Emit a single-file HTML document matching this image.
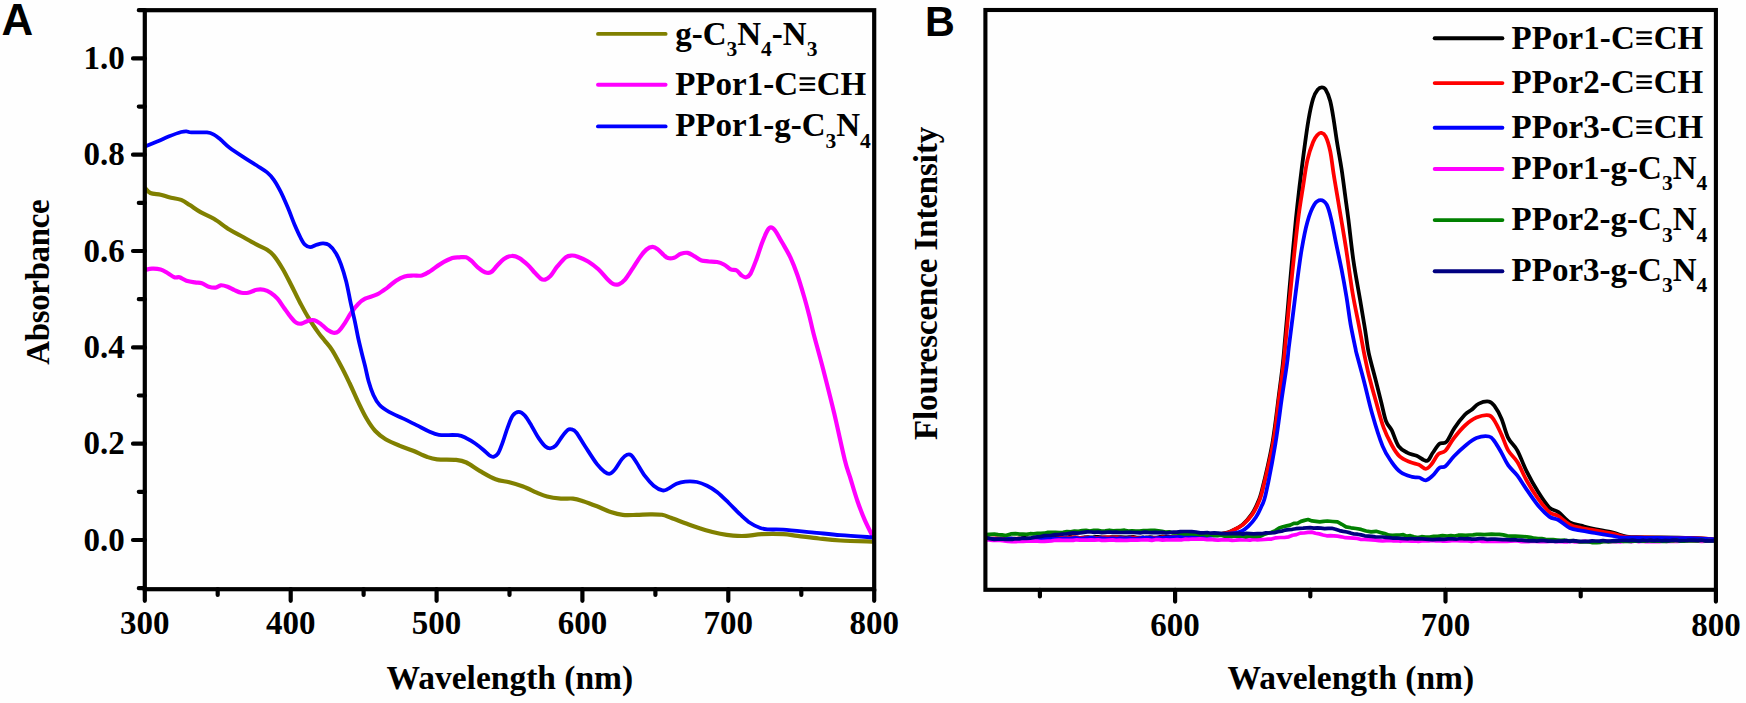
<!DOCTYPE html>
<html lang="en"><head><meta charset="utf-8"><title>Figure: UV-vis absorbance and fluorescence spectra</title>
<style>
html,body{margin:0;padding:0;background:#fefefe;}
body{width:1746px;height:703px;overflow:hidden;}
svg{display:block;}
.t{font-family:"Liberation Serif","Times New Roman",Times,serif;font-weight:bold;font-size:33px;fill:#000;}
.s{font-size:21.5px;}
.p{font-family:"Liberation Sans",Arial,Helvetica,sans-serif;font-weight:bold;fill:#000;}
.ax{stroke:#000;fill:none;}
.c{fill:none;stroke-linejoin:round;stroke-linecap:butt;}
.lg{fill:none;stroke-linecap:round;stroke-width:3.9;}
</style></head><body>
<svg width="1746" height="703" viewBox="0 0 1746 703">
<rect x="0" y="0" width="1746" height="703" fill="#fefefe"/>
<defs>
<clipPath id="ca"><rect x="144.8" y="10.2" width="729.4" height="579.0"/></clipPath>
<clipPath id="cb"><rect x="985.4" y="10.0" width="730.5" height="579.8"/></clipPath>
</defs>
<g clip-path="url(#ca)">
<path class="c" stroke="#808000" stroke-width="4.2" d="M145.0 188.0C145.9 188.8 147.7 191.9 150.3 193.0C152.9 194.1 157.4 194.0 160.6 194.7C163.8 195.4 165.8 196.4 169.2 197.3C172.6 198.2 177.8 198.6 181.2 199.9C184.6 201.2 186.7 203.1 189.8 205.1C193.0 207.1 196.1 209.6 200.1 211.9C204.1 214.2 209.0 215.9 213.9 218.8C218.8 221.7 224.4 226.5 229.3 229.5C234.2 232.5 238.5 234.5 243.1 237.0C247.7 239.5 252.8 242.5 256.8 244.6C260.8 246.7 264.2 247.9 267.1 249.8C270.0 251.7 271.4 252.7 274.0 255.8C276.6 258.9 279.7 263.8 282.6 268.7C285.5 273.6 288.3 279.4 291.2 285.0C294.1 290.6 296.9 296.8 299.8 302.2C302.7 307.6 305.2 312.5 308.4 317.6C311.5 322.8 316.0 329.3 318.7 333.1C321.4 336.9 322.3 337.6 324.6 340.5C326.9 343.4 329.6 346.1 332.3 350.3C335.0 354.5 338.0 360.4 340.9 365.8C343.8 371.2 346.6 377.0 349.5 383.0C352.4 389.0 355.2 395.9 358.1 401.9C361.0 407.9 363.8 413.9 366.7 418.8C369.6 423.7 372.1 427.6 375.3 431.0C378.5 434.4 381.6 436.8 385.6 439.2C389.6 441.6 394.7 443.7 399.3 445.6C403.9 447.5 408.5 448.9 413.1 450.8C417.7 452.7 422.8 455.4 426.8 456.8C430.8 458.2 432.2 458.8 437.1 459.3C442.0 459.8 451.2 459.4 456.1 459.9C461.0 460.4 462.4 460.6 466.4 462.5C470.4 464.4 475.2 468.3 480.1 471.1C485.0 473.9 490.7 477.4 495.6 479.3C500.5 481.2 504.7 481.1 509.3 482.3C513.9 483.5 518.5 484.8 523.1 486.5C527.7 488.2 532.8 490.9 536.8 492.6C540.8 494.3 543.1 495.5 547.1 496.5C551.1 497.5 556.6 498.2 560.9 498.6C565.2 499.0 569.2 498.2 572.9 498.6C576.6 499.0 579.2 499.9 583.2 501.2C587.2 502.5 592.4 504.5 597.0 506.3C601.6 508.1 606.4 510.6 610.7 512.0C615.0 513.4 618.4 514.4 622.7 514.9C627.0 515.4 631.9 515.0 636.5 514.9C641.1 514.8 646.0 514.3 650.2 514.3C654.5 514.3 658.5 514.2 662.0 514.8C665.5 515.4 667.0 516.4 671.5 518.0C676.0 519.6 683.0 522.4 688.7 524.4C694.4 526.4 700.6 528.7 705.9 530.2C711.1 531.8 715.7 532.8 720.2 533.7C724.7 534.6 728.8 535.2 733.1 535.6C737.4 536.0 741.2 536.1 746.0 535.9C750.8 535.7 755.5 534.5 761.7 534.2C767.9 533.9 777.2 533.9 783.2 534.2C789.2 534.5 791.5 535.2 797.5 535.9C803.5 536.6 811.8 537.7 819.0 538.5C826.2 539.3 831.2 540.0 840.5 540.5C849.8 541.0 869.2 541.4 875.0 541.6"/>
<path class="c" stroke="#ff00ff" stroke-width="4.2" d="M145.0 270.0C146.2 269.8 149.4 268.8 152.0 268.7C154.6 268.6 158.0 268.8 160.6 269.5C163.2 270.2 165.2 271.7 167.5 273.0C169.8 274.3 172.4 276.6 174.4 277.3C176.4 278.0 177.5 276.7 179.5 277.3C181.5 277.9 183.8 279.9 186.4 280.7C189.0 281.5 192.4 282.0 195.0 282.4C197.6 282.8 199.6 282.6 201.9 283.3C204.2 284.0 206.4 286.0 208.7 286.7C211.0 287.4 213.6 287.8 215.6 287.6C217.6 287.4 218.8 285.5 220.8 285.3C222.8 285.1 225.3 285.9 227.6 286.7C229.9 287.5 232.2 289.1 234.5 290.1C236.8 291.1 239.1 292.3 241.4 292.7C243.7 293.1 245.6 293.2 248.2 292.7C250.8 292.2 254.2 290.3 256.8 289.8C259.4 289.3 261.4 289.3 263.7 289.8C266.0 290.3 268.3 291.2 270.6 292.7C272.9 294.2 275.2 296.1 277.5 298.7C279.8 301.3 282.0 305.0 284.3 308.2C286.6 311.4 289.2 315.2 291.2 317.6C293.2 320.0 294.7 321.8 296.4 322.8C298.1 323.8 299.5 324.0 301.5 323.6C303.5 323.2 306.2 321.3 308.4 320.7C310.5 320.1 312.4 319.7 314.4 320.2C316.4 320.7 318.2 322.0 320.4 323.6C322.5 325.2 325.1 328.2 327.3 329.7C329.5 331.2 331.4 332.4 333.3 332.7C335.2 333.0 336.6 332.9 338.5 331.4C340.4 329.9 342.4 326.8 344.5 323.6C346.6 320.5 349.0 315.8 351.3 312.5C353.6 309.2 355.9 306.2 358.2 303.9C360.5 301.6 362.0 300.3 365.1 298.7C368.2 297.1 373.4 296.2 377.1 294.4C380.8 292.5 384.2 289.9 387.4 287.6C390.5 285.3 393.1 282.6 396.0 280.7C398.9 278.8 401.7 277.3 404.6 276.4C407.5 275.5 410.3 275.6 413.2 275.5C416.1 275.4 418.9 276.2 421.8 275.5C424.7 274.8 427.4 272.9 430.5 271.0C433.6 269.1 436.7 266.2 440.3 264.1C443.9 262.0 449.2 259.2 452.3 258.1C455.4 257.0 456.9 257.4 459.2 257.3C461.5 257.2 464.1 256.7 466.1 257.3C468.1 257.9 469.2 259.0 471.2 260.7C473.2 262.4 475.8 265.7 478.1 267.6C480.4 269.5 482.9 271.4 485.0 272.2C487.1 273.0 489.0 273.3 491.0 272.2C493.0 271.1 494.9 268.0 497.0 265.8C499.1 263.6 501.5 260.6 503.9 259.0C506.3 257.4 509.0 256.1 511.6 256.0C514.2 255.8 516.6 256.6 519.3 258.1C522.0 259.6 525.3 262.6 527.9 265.0C530.5 267.4 532.6 270.4 534.8 272.7C536.9 275.0 539.1 277.5 540.8 278.7C542.5 279.9 543.5 280.0 545.1 279.6C546.7 279.2 548.3 278.4 550.3 276.2C552.3 274.0 554.5 269.8 557.1 266.7C559.7 263.6 563.2 259.2 565.7 257.3C568.2 255.4 569.8 255.6 571.8 255.5C573.8 255.4 575.1 255.7 577.8 256.7C580.5 257.7 584.7 259.4 588.1 261.5C591.5 263.6 595.2 266.4 598.4 269.3C601.5 272.2 604.6 276.3 607.0 278.7C609.4 281.1 611.0 283.0 613.0 283.9C615.0 284.8 617.0 284.9 619.0 284.2C621.0 283.5 622.7 282.2 625.0 279.6C627.3 277.0 630.1 272.3 632.7 268.4C635.3 264.5 638.2 259.5 640.5 256.4C642.8 253.2 644.5 251.1 646.5 249.5C648.5 247.9 650.6 247.0 652.5 246.9C654.4 246.8 655.8 247.8 657.7 249.2C659.6 250.5 662.0 253.5 663.7 255.0C665.4 256.5 666.3 257.6 668.0 258.1C669.7 258.6 671.9 258.5 674.0 257.8C676.1 257.1 678.6 254.6 680.9 253.8C683.2 253.0 685.4 252.5 687.7 252.9C690.0 253.3 692.3 255.1 694.6 256.4C696.9 257.7 699.2 259.7 701.5 260.5C703.8 261.3 705.9 261.1 708.5 261.4C711.1 261.6 714.5 261.5 717.1 262.0C719.7 262.5 721.6 263.3 723.9 264.5C726.2 265.7 728.6 268.3 730.7 269.3C732.8 270.3 734.9 269.4 736.7 270.5C738.6 271.6 740.2 274.5 741.8 275.6C743.4 276.7 744.7 277.6 746.1 277.3C747.5 277.0 748.7 276.9 750.4 273.9C752.1 270.9 754.4 264.7 756.4 259.4C758.4 254.1 760.4 247.1 762.3 242.3C764.1 237.5 766.1 232.9 767.5 230.4C768.9 227.9 769.6 227.3 770.9 227.3C772.2 227.3 773.2 227.9 775.1 230.4C777.0 232.9 779.4 237.8 782.0 242.3C784.6 246.9 788.0 252.3 790.5 257.7C793.0 263.1 795.0 268.2 797.3 274.8C799.6 281.4 802.2 290.2 804.2 297.0C806.2 303.8 807.7 309.6 809.3 315.7C810.9 321.8 811.3 324.8 813.6 333.7C815.9 342.6 819.7 355.7 823.1 369.0C826.5 382.3 830.6 398.1 834.2 413.3C837.8 428.5 842.1 449.1 844.8 460.0C847.5 470.9 848.4 471.7 850.5 478.6C852.6 485.5 855.2 494.6 857.6 501.5C860.0 508.4 861.9 513.5 864.8 520.1C867.7 526.7 873.3 537.5 875.0 541.0"/>
<path class="c" stroke="#0000ff" stroke-width="3.8" d="M145.0 146.5C147.0 145.7 153.2 143.2 157.2 141.5C161.2 139.8 165.2 137.9 169.2 136.3C173.2 134.7 178.3 132.8 181.2 132.0C184.1 131.2 184.7 131.2 186.4 131.3C188.1 131.4 188.1 132.2 191.5 132.4C194.9 132.6 203.3 132.0 207.0 132.4C210.7 132.8 211.6 133.4 213.9 134.6C216.2 135.8 218.2 137.7 220.8 139.8C223.4 142.0 225.6 144.7 229.3 147.5C233.0 150.3 238.5 153.9 243.1 156.9C247.7 159.9 252.8 162.9 256.8 165.5C260.8 168.1 264.2 170.0 267.1 172.4C270.0 174.8 271.7 176.8 274.0 180.1C276.3 183.4 278.6 187.6 280.9 192.2C283.2 196.8 285.5 202.2 287.8 207.6C290.1 213.0 292.5 219.7 294.6 224.8C296.8 229.9 299.0 234.7 300.7 238.0C302.4 241.3 303.3 243.1 304.9 244.6C306.5 246.1 308.1 247.2 310.1 247.2C312.1 247.2 314.9 245.2 317.0 244.6C319.1 244.0 321.0 243.3 323.0 243.4C325.0 243.5 326.9 243.5 329.0 245.1C331.1 246.7 333.9 250.0 335.9 253.2C337.9 256.4 339.3 259.7 341.0 264.4C342.7 269.1 344.6 275.2 346.2 281.5C347.8 287.8 349.1 295.6 350.5 302.2C351.9 308.8 353.5 315.1 354.8 321.1C356.1 327.1 357.1 332.9 358.2 338.0C359.3 343.1 360.4 347.4 361.5 352.0C362.6 356.6 363.8 360.9 365.0 365.8C366.2 370.7 367.2 376.3 368.6 381.2C370.0 386.1 371.6 391.0 373.4 395.0C375.2 399.0 377.0 402.2 379.6 405.0C382.2 407.8 385.1 409.6 389.0 411.8C392.9 414.0 398.2 416.2 402.8 418.4C407.4 420.6 412.2 423.0 416.5 425.1C420.8 427.2 424.9 429.6 428.6 431.2C432.3 432.8 434.0 434.1 438.9 434.8C443.8 435.5 453.2 434.6 457.8 435.2C462.4 435.8 463.5 436.9 466.4 438.2C469.2 439.5 472.0 441.2 474.9 443.2C477.8 445.2 481.1 447.9 483.5 450.0C485.9 452.1 487.9 454.4 489.6 455.5C491.3 456.6 492.1 457.2 493.5 456.8C494.9 456.4 496.6 455.7 498.1 453.4C499.6 451.1 500.8 447.4 502.4 443.1C504.0 438.8 505.9 432.2 507.6 427.6C509.3 423.0 510.8 418.2 512.7 415.6C514.6 413.0 516.8 411.8 518.8 411.8C520.8 411.8 522.7 413.2 524.8 415.6C526.9 418.0 529.3 422.2 531.6 425.9C533.9 429.6 536.2 434.5 538.5 437.9C540.8 441.3 543.4 444.8 545.4 446.5C547.4 448.2 548.5 448.5 550.2 448.4C551.9 448.3 553.6 447.8 555.7 445.7C557.8 443.6 560.6 438.4 562.6 435.8C564.6 433.2 566.3 431.1 567.7 430.0C569.1 428.9 569.8 428.9 571.2 429.3C572.6 429.7 574.0 429.7 576.3 432.5C578.6 435.3 581.4 440.7 584.9 446.0C588.4 451.3 593.7 459.9 597.0 464.2C600.3 468.5 602.6 470.3 604.7 471.9C606.9 473.5 608.2 474.1 609.9 473.7C611.6 473.3 613.0 471.8 615.0 469.4C617.0 467.0 619.9 461.5 621.9 459.1C623.9 456.7 625.4 455.4 627.0 454.8C628.6 454.2 629.7 454.0 631.3 455.3C632.9 456.6 634.2 459.0 636.5 462.5C638.8 466.0 642.2 472.3 645.1 476.2C648.0 480.1 650.8 483.3 653.7 485.7C656.6 488.1 660.1 489.9 662.5 490.4C664.9 490.9 665.7 490.0 668.0 488.9C670.3 487.8 673.6 485.0 676.5 483.8C679.4 482.6 681.8 481.9 685.2 481.6C688.6 481.3 693.4 481.3 697.0 482.0C700.6 482.7 703.7 484.1 707.1 485.8C710.5 487.5 713.7 489.3 717.3 492.2C720.9 495.1 725.0 499.3 728.8 503.0C732.6 506.7 736.6 511.1 740.2 514.4C743.8 517.7 746.9 520.7 750.3 523.0C753.6 525.3 757.2 526.9 760.3 528.0C763.4 529.1 765.1 529.1 768.9 529.4C772.7 529.7 776.1 529.2 783.2 529.7C790.4 530.2 802.2 531.4 811.8 532.3C821.3 533.2 830.0 534.3 840.5 535.2C851.0 536.1 869.2 537.1 875.0 537.5"/>
</g>
<rect class="ax" x="144.8" y="10.2" width="729.4" height="579.0" stroke-width="4.2"/>
<path class="ax" stroke-width="4.2" stroke-linecap="round" d="M138.8 588.2H144.8M133.0 540.0H144.8M138.8 491.8H144.8M133.0 443.7H144.8M138.8 395.5H144.8M133.0 347.4H144.8M138.8 299.2H144.8M133.0 251.0H144.8M138.8 202.9H144.8M133.0 154.7H144.8M138.8 106.6H144.8M133.0 58.4H144.8M138.8 10.2H144.8"/>
<path class="ax" stroke-width="4.2" stroke-linecap="round" d="M144.8 589.2V600.8M217.7 589.2V595.0M290.7 589.2V600.8M363.6 589.2V595.0M436.6 589.2V600.8M509.5 589.2V595.0M582.4 589.2V600.8M655.4 589.2V595.0M728.3 589.2V600.8M801.3 589.2V595.0M874.2 589.2V600.8"/>
<text class="t" x="124.8" y="550.5" text-anchor="end">0.0</text>
<text class="t" x="124.8" y="454.2" text-anchor="end">0.2</text>
<text class="t" x="124.8" y="357.9" text-anchor="end">0.4</text>
<text class="t" x="124.8" y="261.5" text-anchor="end">0.6</text>
<text class="t" x="124.8" y="165.2" text-anchor="end">0.8</text>
<text class="t" x="124.8" y="68.9" text-anchor="end">1.0</text>
<text class="t" x="144.8" y="634.2" text-anchor="middle">300</text>
<text class="t" x="290.7" y="634.2" text-anchor="middle">400</text>
<text class="t" x="436.6" y="634.2" text-anchor="middle">500</text>
<text class="t" x="582.4" y="634.2" text-anchor="middle">600</text>
<text class="t" x="728.3" y="634.2" text-anchor="middle">700</text>
<text class="t" x="874.2" y="634.2" text-anchor="middle">800</text>
<text class="t" x="509.9" y="689.2" font-size="33.5" style="font-size:33.5px" text-anchor="middle">Wavelength (nm)</text>
<text class="t" transform="translate(49.2 282) rotate(-90)" text-anchor="middle" textLength="165.4" lengthAdjust="spacing">Absorbance</text>
<text class="p" transform="translate(1.5 35.2) scale(.975 1)" font-size="45">A</text>
<path class="lg" stroke="#808000" d="M598 33.9H665.6"/>
<text class="t" x="675.2" y="44.6">g-C<tspan class="s" dy="11.3">3</tspan><tspan dy="-11.3">N</tspan><tspan class="s" dy="11.3">4</tspan><tspan dy="-11.3">-N</tspan><tspan class="s" dy="11.3">3</tspan></text>
<path class="lg" stroke="#ff00ff" d="M598 84.7H665.6"/>
<text class="t" x="675.2" y="94.9">PPor1-C≡CH</text>
<path class="lg" stroke="#0000ff" d="M598 126.4H665.6"/>
<text class="t" x="675.2" y="136.3">PPor1-g-C<tspan class="s" dy="11.3">3</tspan><tspan dy="-11.3">N</tspan><tspan class="s" dy="11.3">4</tspan></text>
<g clip-path="url(#cb)">
<path class="c" stroke="#000000" stroke-width="3.8" d="M985.0 537.6C985.8 537.8 988.3 538.4 990.0 538.5C991.7 538.7 993.3 538.7 995.0 538.7C996.7 538.6 998.5 538.4 1000.0 538.4C1001.5 538.3 1002.9 538.5 1004.3 538.6C1005.7 538.6 1007.1 538.5 1008.6 538.5C1010.0 538.5 1011.4 538.6 1012.9 538.7C1014.3 538.7 1015.7 538.9 1017.1 538.8C1018.6 538.7 1020.0 538.2 1021.4 538.1C1022.9 537.9 1024.3 537.8 1025.7 538.0C1027.1 538.1 1028.6 538.7 1030.0 538.7C1031.4 538.8 1032.9 538.3 1034.3 538.2C1035.7 538.2 1037.1 538.5 1038.6 538.4C1040.0 538.3 1041.4 537.7 1042.9 537.6C1044.3 537.5 1045.7 537.8 1047.1 537.9C1048.6 538.0 1050.0 538.1 1051.4 538.1C1052.9 538.0 1054.3 537.4 1055.7 537.4C1057.1 537.4 1058.6 538.0 1060.0 538.0C1061.4 538.1 1062.7 538.1 1064.0 538.0C1065.3 537.8 1066.7 537.2 1068.0 537.1C1069.3 536.9 1070.7 537.0 1072.0 537.1C1073.3 537.1 1074.7 537.4 1076.0 537.6C1077.3 537.7 1078.7 538.0 1080.0 537.9C1081.3 537.9 1082.7 537.5 1084.0 537.4C1085.3 537.2 1086.7 537.2 1088.0 537.2C1089.3 537.2 1090.7 537.4 1092.0 537.4C1093.3 537.3 1094.7 537.0 1096.0 536.9C1097.3 536.9 1098.6 537.1 1100.0 537.1C1101.4 537.2 1102.8 537.3 1104.2 537.3C1105.6 537.4 1106.9 537.4 1108.3 537.4C1109.7 537.4 1111.1 537.2 1112.5 537.1C1113.9 537.1 1115.3 537.1 1116.7 537.1C1118.1 537.1 1119.4 537.1 1120.8 537.1C1122.2 537.2 1123.6 537.3 1125.0 537.4C1126.4 537.4 1127.8 537.3 1129.2 537.2C1130.6 537.1 1131.9 536.8 1133.3 536.9C1134.7 537.0 1136.1 537.6 1137.5 537.7C1138.9 537.8 1140.3 537.5 1141.7 537.5C1143.1 537.4 1144.4 537.6 1145.8 537.5C1147.2 537.5 1148.6 537.1 1150.0 537.1C1151.4 537.1 1152.8 537.7 1154.2 537.7C1155.6 537.8 1156.9 537.6 1158.3 537.4C1159.7 537.2 1161.1 536.7 1162.5 536.5C1163.9 536.4 1165.3 536.6 1166.7 536.6C1168.1 536.6 1169.4 536.8 1170.8 536.8C1172.2 536.8 1173.6 536.7 1175.0 536.7C1176.4 536.6 1177.8 536.8 1179.2 536.7C1180.6 536.6 1181.9 536.1 1183.3 536.1C1184.7 536.0 1186.1 536.3 1187.5 536.3C1188.9 536.3 1190.3 536.1 1191.7 536.0C1193.1 535.8 1194.4 535.5 1195.8 535.5C1197.2 535.4 1195.1 535.9 1200.0 535.5C1204.9 535.1 1219.6 534.1 1225.0 533.2C1230.4 532.4 1229.7 531.8 1232.6 530.4C1235.5 529.0 1239.4 527.3 1242.6 524.6C1245.8 521.9 1249.1 518.0 1251.6 514.4C1254.1 510.8 1255.9 507.0 1257.6 502.9C1259.3 498.8 1259.5 499.9 1262.0 490.0C1264.5 480.1 1269.5 459.1 1272.3 443.8C1275.0 428.5 1276.8 411.6 1278.5 398.3C1280.2 385.0 1281.7 373.9 1282.8 364.2C1283.9 354.5 1284.1 350.1 1285.0 340.0C1285.9 329.9 1287.2 315.5 1288.2 303.8C1289.2 292.1 1289.9 284.0 1291.2 269.7C1292.5 255.4 1294.6 231.9 1296.0 218.2C1297.4 204.5 1298.1 198.7 1299.4 187.5C1300.7 176.3 1302.5 162.5 1304.0 151.1C1305.5 139.7 1307.1 127.9 1308.6 119.2C1310.1 110.5 1311.6 103.6 1313.1 98.7C1314.6 93.8 1316.2 91.5 1317.7 89.6C1319.2 87.7 1320.5 87.3 1321.8 87.3C1323.1 87.3 1324.2 87.3 1325.6 89.6C1327.0 91.9 1328.9 96.1 1330.2 101.0C1331.5 105.9 1332.5 112.4 1333.6 119.2C1334.7 126.0 1335.7 133.7 1337.0 142.0C1338.3 150.3 1340.3 160.6 1341.6 169.3C1342.9 178.0 1343.9 185.9 1345.0 194.3C1346.1 202.7 1347.0 208.5 1348.4 219.6C1349.8 230.7 1351.5 247.3 1353.4 260.6C1355.3 273.9 1358.2 288.7 1360.0 299.3C1361.8 309.9 1363.2 318.4 1364.2 324.3C1365.2 330.2 1365.2 330.2 1365.9 335.0C1366.7 339.8 1367.1 345.3 1368.7 352.8C1370.3 360.3 1373.6 371.8 1375.7 380.1C1377.8 388.5 1379.7 396.1 1381.4 402.9C1383.1 409.7 1384.3 416.6 1386.0 421.1C1387.7 425.7 1389.6 426.0 1391.7 430.2C1393.8 434.4 1395.8 442.3 1398.5 446.1C1401.2 449.9 1404.6 451.3 1407.6 452.9C1410.6 454.5 1413.5 454.4 1416.7 455.7C1419.9 457.0 1424.2 461.3 1426.9 460.9C1429.6 460.4 1430.5 455.9 1432.6 453.0C1434.7 450.1 1437.2 445.7 1439.5 443.8C1441.8 441.9 1444.0 444.5 1446.5 441.8C1449.0 439.1 1451.5 432.4 1454.6 427.9C1457.6 423.4 1462.0 417.8 1464.8 414.8C1467.6 411.8 1469.2 411.7 1471.6 409.8C1473.9 407.9 1476.0 405.0 1478.9 403.6C1481.8 402.2 1486.4 401.2 1489.0 401.6C1491.6 402.0 1492.5 403.4 1494.6 406.2C1496.7 409.0 1499.2 413.4 1501.5 418.7C1503.8 424.0 1505.6 432.8 1508.3 438.1C1511.0 443.4 1514.4 445.1 1517.4 450.6C1520.4 456.1 1523.1 464.3 1526.5 471.1C1529.9 477.9 1534.1 485.5 1537.9 491.6C1541.7 497.7 1545.9 504.1 1549.3 507.5C1552.7 510.9 1555.0 509.6 1558.4 512.1C1561.8 514.6 1566.0 520.0 1569.8 522.3C1573.6 524.6 1577.0 524.6 1581.2 525.7C1585.4 526.8 1589.5 528.0 1594.8 529.1C1600.1 530.2 1607.7 531.3 1613.0 532.6C1618.3 533.9 1621.4 535.9 1626.7 536.7C1632.0 537.5 1634.4 537.1 1644.9 537.3C1655.5 537.5 1678.2 537.6 1690.0 538.0C1701.8 538.4 1711.7 539.2 1716.0 539.5"/>
<path class="c" stroke="#ff0000" stroke-width="3.8" d="M985.0 538.9C985.8 538.9 988.3 539.1 990.0 539.0C991.7 539.0 993.3 538.4 995.0 538.4C996.7 538.3 998.5 538.4 1000.0 538.6C1001.5 538.7 1002.9 539.2 1004.3 539.3C1005.7 539.4 1007.1 539.2 1008.6 539.2C1010.0 539.1 1011.4 539.2 1012.9 539.1C1014.3 539.0 1015.7 538.7 1017.1 538.7C1018.6 538.7 1020.0 538.9 1021.4 539.0C1022.9 539.0 1024.3 538.9 1025.7 538.9C1027.1 538.9 1028.6 539.0 1030.0 538.9C1031.4 538.8 1032.9 538.4 1034.3 538.3C1035.7 538.3 1037.1 538.5 1038.6 538.5C1040.0 538.5 1041.4 538.3 1042.9 538.4C1044.3 538.4 1045.7 538.5 1047.1 538.6C1048.6 538.6 1050.0 538.7 1051.4 538.7C1052.9 538.7 1054.3 538.7 1055.7 538.6C1057.1 538.5 1058.6 538.2 1060.0 538.0C1061.4 537.9 1062.7 538.0 1064.0 537.9C1065.3 537.9 1066.7 537.8 1068.0 537.7C1069.3 537.7 1070.7 537.5 1072.0 537.5C1073.3 537.4 1074.7 537.4 1076.0 537.4C1077.3 537.5 1078.7 537.8 1080.0 537.9C1081.3 537.9 1082.7 537.7 1084.0 537.7C1085.3 537.7 1086.7 537.7 1088.0 537.7C1089.3 537.8 1090.7 538.2 1092.0 538.2C1093.3 538.2 1094.7 537.9 1096.0 537.8C1097.3 537.8 1098.6 537.9 1100.0 537.9C1101.4 537.8 1102.8 537.6 1104.2 537.5C1105.6 537.4 1106.9 537.3 1108.3 537.3C1109.7 537.3 1111.1 537.6 1112.5 537.6C1113.9 537.6 1115.3 537.4 1116.7 537.4C1118.1 537.5 1119.4 537.7 1120.8 537.8C1122.2 538.0 1123.6 538.3 1125.0 538.3C1126.4 538.3 1127.8 538.1 1129.2 538.0C1130.6 537.8 1131.9 537.4 1133.3 537.5C1134.7 537.5 1136.1 538.1 1137.5 538.2C1138.9 538.3 1140.3 538.1 1141.7 538.1C1143.1 538.1 1144.4 538.0 1145.8 538.0C1147.2 538.1 1148.6 538.2 1150.0 538.2C1151.4 538.2 1152.8 538.0 1154.2 537.9C1155.6 537.8 1156.9 537.9 1158.3 537.8C1159.7 537.7 1161.1 537.2 1162.5 537.2C1163.9 537.2 1165.3 537.6 1166.7 537.6C1168.1 537.7 1169.4 537.7 1170.8 537.5C1172.2 537.3 1173.6 536.6 1175.0 536.5C1176.4 536.4 1177.8 536.9 1179.2 536.9C1180.6 537.0 1181.9 536.9 1183.3 536.7C1184.7 536.6 1186.1 536.4 1187.5 536.3C1188.9 536.3 1190.3 536.3 1191.7 536.2C1193.1 536.2 1194.4 536.1 1195.8 536.0C1197.2 536.0 1195.1 536.3 1200.0 535.9C1204.9 535.5 1219.5 534.3 1225.0 533.4C1230.5 532.5 1229.9 531.9 1232.9 530.4C1235.9 528.9 1239.8 527.3 1243.0 524.6C1246.2 521.9 1249.8 518.0 1252.3 514.4C1254.8 510.8 1256.6 507.0 1258.3 502.9C1260.0 498.8 1260.1 499.9 1262.6 490.0C1265.0 480.1 1270.3 459.1 1273.0 443.8C1275.7 428.5 1277.2 411.6 1279.0 398.3C1280.8 385.0 1282.4 373.9 1283.5 364.2C1284.6 354.5 1284.8 350.1 1285.8 340.0C1286.8 329.9 1287.9 317.4 1289.2 303.8C1290.5 290.2 1292.3 272.6 1293.8 258.3C1295.3 244.0 1296.8 229.8 1298.3 218.0C1299.8 206.2 1301.4 197.1 1302.9 187.5C1304.4 177.9 1305.7 167.8 1307.4 160.2C1309.1 152.6 1311.4 146.2 1313.1 142.0C1314.8 137.8 1316.4 136.2 1317.7 134.7C1319.0 133.2 1319.8 132.6 1321.1 132.9C1322.4 133.2 1324.1 133.3 1325.6 136.3C1327.1 139.3 1328.9 144.8 1330.2 151.1C1331.5 157.3 1332.3 165.5 1333.6 173.8C1334.9 182.2 1337.0 193.8 1338.2 201.2C1339.4 208.6 1339.6 209.6 1341.0 218.0C1342.4 226.4 1344.6 239.1 1346.5 251.5C1348.4 263.9 1350.5 280.4 1352.5 292.5C1354.5 304.6 1357.3 316.9 1358.7 324.3C1360.1 331.7 1360.2 332.2 1361.1 337.0C1362.0 341.8 1362.7 346.4 1364.0 352.8C1365.3 359.2 1367.0 367.5 1368.9 375.5C1370.9 383.5 1373.2 391.9 1375.7 400.6C1378.2 409.3 1381.0 420.5 1383.7 427.9C1386.4 435.3 1389.1 440.2 1391.7 445.0C1394.3 449.8 1396.6 453.5 1399.6 456.4C1402.6 459.2 1406.7 460.7 1409.9 462.1C1413.1 463.5 1416.3 463.7 1419.0 464.8C1421.7 465.9 1423.7 469.0 1425.8 468.9C1427.9 468.8 1429.4 466.8 1431.5 464.3C1433.6 461.8 1436.0 456.4 1438.3 454.1C1440.6 451.9 1442.8 453.5 1445.4 450.8C1448.0 448.1 1450.7 442.2 1454.0 438.0C1457.3 433.8 1461.3 428.9 1465.0 425.5C1468.7 422.1 1472.4 419.3 1476.4 417.6C1480.4 415.9 1486.0 414.7 1489.0 415.3C1492.0 415.9 1492.5 417.8 1494.6 421.0C1496.7 424.2 1499.2 429.7 1501.5 434.6C1503.8 439.5 1505.6 446.0 1508.3 450.6C1511.0 455.2 1514.4 457.1 1517.4 462.0C1520.4 466.9 1523.1 474.1 1526.5 480.2C1529.9 486.3 1534.1 493.1 1537.9 498.4C1541.7 503.7 1545.9 509.1 1549.3 512.1C1552.7 515.1 1555.0 514.1 1558.4 516.2C1561.8 518.3 1566.0 522.6 1569.8 524.6C1573.6 526.6 1577.0 527.0 1581.2 528.0C1585.4 529.0 1589.5 529.3 1594.8 530.3C1600.1 531.2 1607.7 532.6 1613.0 533.7C1618.3 534.8 1621.4 536.5 1626.7 537.1C1632.0 537.7 1634.4 537.4 1644.9 537.5C1655.5 537.6 1678.2 537.7 1690.0 538.0C1701.8 538.3 1711.7 539.2 1716.0 539.5"/>
<path class="c" stroke="#0000ff" stroke-width="3.8" d="M985.0 538.5C985.8 538.6 988.3 539.0 990.0 539.0C991.7 539.1 993.3 539.0 995.0 539.1C996.7 539.1 998.5 539.4 1000.0 539.5C1001.5 539.6 1002.9 539.6 1004.3 539.5C1005.7 539.4 1007.1 539.0 1008.6 538.9C1010.0 538.8 1011.4 538.7 1012.9 538.8C1014.3 538.9 1015.7 539.6 1017.1 539.6C1018.6 539.7 1020.0 539.1 1021.4 539.0C1022.9 538.9 1024.3 538.8 1025.7 539.0C1027.1 539.1 1028.6 539.7 1030.0 539.7C1031.4 539.7 1032.9 539.1 1034.3 539.1C1035.7 539.0 1037.1 539.3 1038.6 539.3C1040.0 539.3 1041.4 538.9 1042.9 538.8C1044.3 538.8 1045.7 539.0 1047.1 538.9C1048.6 538.8 1050.0 538.3 1051.4 538.3C1052.9 538.2 1054.3 538.6 1055.7 538.6C1057.1 538.7 1058.6 538.8 1060.0 538.8C1061.4 538.7 1062.7 538.4 1064.0 538.4C1065.3 538.4 1066.7 538.6 1068.0 538.6C1069.3 538.6 1070.7 538.6 1072.0 538.5C1073.3 538.4 1074.7 537.9 1076.0 537.9C1077.3 537.9 1078.7 538.5 1080.0 538.6C1081.3 538.6 1082.7 538.5 1084.0 538.4C1085.3 538.3 1086.7 538.2 1088.0 538.1C1089.3 538.0 1090.7 537.7 1092.0 537.8C1093.3 537.9 1094.7 538.5 1096.0 538.6C1097.3 538.7 1098.6 538.2 1100.0 538.2C1101.4 538.1 1102.8 538.4 1104.2 538.4C1105.6 538.5 1106.9 538.6 1108.3 538.6C1109.7 538.6 1111.1 538.4 1112.5 538.4C1113.9 538.4 1115.3 538.7 1116.7 538.6C1118.1 538.6 1119.4 538.1 1120.8 538.1C1122.2 538.1 1123.6 538.5 1125.0 538.5C1126.4 538.5 1127.8 538.1 1129.2 538.1C1130.6 538.2 1131.9 538.6 1133.3 538.6C1134.7 538.7 1136.1 538.7 1137.5 538.6C1138.9 538.4 1140.3 537.9 1141.7 537.8C1143.1 537.7 1144.4 537.8 1145.8 537.8C1147.2 537.9 1148.6 537.8 1150.0 537.9C1151.4 538.0 1152.8 538.5 1154.2 538.5C1155.6 538.5 1156.9 537.9 1158.3 537.8C1159.7 537.7 1161.1 537.9 1162.5 537.9C1163.9 537.8 1165.3 537.4 1166.7 537.4C1168.1 537.3 1169.4 537.5 1170.8 537.4C1172.2 537.4 1173.6 537.2 1175.0 537.1C1176.4 537.1 1177.8 537.0 1179.2 536.9C1180.6 536.9 1181.9 537.0 1183.3 537.0C1184.7 537.0 1186.1 536.9 1187.5 536.9C1188.9 536.9 1190.3 537.1 1191.7 537.0C1193.1 537.0 1194.4 536.8 1195.8 536.6C1197.2 536.5 1194.6 536.7 1200.0 536.3C1205.4 535.9 1221.1 534.9 1228.0 534.0C1234.9 533.1 1238.0 532.6 1241.5 531.2C1245.0 529.8 1246.3 528.1 1248.7 525.8C1251.1 523.5 1253.7 520.5 1255.9 517.2C1258.1 513.9 1260.0 509.9 1261.7 505.8C1263.4 501.8 1263.7 503.2 1266.0 492.9C1268.3 482.6 1272.8 459.6 1275.4 443.8C1278.0 428.0 1279.9 411.6 1281.8 398.3C1283.7 385.0 1285.8 372.6 1286.9 364.2C1288.1 355.8 1287.8 356.0 1288.7 348.2C1289.7 340.4 1291.2 328.7 1292.6 317.5C1294.0 306.3 1295.7 292.5 1297.2 281.1C1298.7 269.7 1300.0 259.1 1301.7 249.2C1303.4 239.3 1305.3 229.3 1307.4 221.9C1309.5 214.5 1312.0 208.4 1314.2 204.8C1316.4 201.2 1318.5 200.2 1320.6 200.2C1322.7 200.2 1325.0 201.6 1326.8 204.8C1328.6 208.0 1329.8 213.3 1331.3 219.6C1332.8 225.9 1334.2 234.1 1335.9 242.4C1337.6 250.8 1339.8 260.6 1341.6 269.7C1343.4 278.8 1345.0 287.9 1346.5 297.0C1348.0 306.1 1349.1 315.8 1350.6 324.3C1352.1 332.8 1354.4 343.2 1355.4 348.2C1356.4 353.1 1355.2 348.3 1356.7 354.0C1358.2 359.7 1361.7 372.4 1364.3 382.4C1366.9 392.4 1369.2 403.6 1372.3 414.2C1375.3 424.8 1379.4 438.1 1382.6 446.1C1385.8 454.1 1388.7 457.7 1391.7 462.1C1394.7 466.5 1397.4 469.8 1400.8 472.3C1404.2 474.8 1409.2 476.0 1412.2 476.9C1415.2 477.8 1416.7 476.9 1419.0 477.5C1421.3 478.1 1423.5 480.6 1425.8 480.3C1428.1 480.0 1430.3 477.8 1432.6 475.7C1434.9 473.6 1437.4 469.3 1439.5 467.7C1441.6 466.1 1443.0 468.2 1445.4 466.3C1447.8 464.4 1450.7 459.7 1454.0 456.3C1457.3 452.9 1461.3 449.0 1465.0 446.0C1468.7 443.0 1472.4 439.7 1476.4 438.1C1480.4 436.5 1486.0 435.9 1489.0 436.5C1492.0 437.1 1492.5 438.8 1494.6 441.5C1496.7 444.2 1499.2 448.9 1501.5 452.9C1503.8 456.9 1505.6 461.6 1508.3 465.4C1511.0 469.2 1514.4 471.6 1517.4 475.6C1520.4 479.6 1523.1 484.4 1526.5 489.3C1529.9 494.2 1534.1 500.6 1537.9 505.2C1541.7 509.8 1545.9 514.1 1549.3 516.6C1552.7 519.1 1555.0 518.1 1558.4 520.0C1561.8 521.9 1566.0 526.2 1569.8 528.0C1573.6 529.8 1577.0 529.9 1581.2 530.7C1585.4 531.5 1589.5 532.1 1594.8 533.0C1600.1 533.9 1608.5 535.2 1613.0 536.0C1617.5 536.8 1616.8 537.3 1622.1 537.6C1627.4 537.9 1633.6 537.7 1644.9 537.8C1656.2 537.9 1678.2 537.9 1690.0 538.2C1701.8 538.5 1711.7 539.3 1716.0 539.5"/>
<path class="c" stroke="#ff00ff" stroke-width="3.7" d="M985.0 539.9L988.9 540.0L992.7 540.4L996.5 540.3L1000.4 540.5L1004.2 540.9L1008.1 541.5L1011.9 541.6L1015.8 541.7L1019.4 541.2L1023.0 541.5L1026.5 541.2L1030.1 541.1L1033.7 541.0L1037.3 541.1L1040.9 541.5L1044.5 541.3L1048.0 541.1L1051.6 540.9L1055.2 540.3L1058.8 540.2L1062.3 540.4L1065.9 540.3L1069.5 540.4L1073.1 540.4L1076.7 539.8L1080.2 540.2L1083.8 540.2L1087.4 540.1L1091.0 539.8L1094.6 540.1L1098.2 539.8L1101.7 540.4L1105.3 540.4L1108.9 540.1L1112.5 539.9L1116.1 540.4L1119.6 540.2L1123.2 540.4L1126.8 540.4L1130.3 540.1L1133.9 540.0L1137.5 540.2L1141.1 540.0L1144.7 539.8L1148.2 539.9L1151.8 540.4L1155.4 539.7L1158.9 539.7L1162.5 540.2L1166.1 539.9L1169.9 540.0L1173.6 539.8L1177.4 539.6L1181.2 540.0L1184.9 539.2L1188.7 539.3L1192.5 539.0L1196.2 539.2L1200.0 538.8L1203.6 539.1L1207.2 539.6L1210.8 539.4L1214.3 539.8L1217.9 540.2L1221.5 539.8L1225.1 539.7L1228.7 539.9L1232.2 540.3L1235.8 540.2L1239.4 539.9L1242.9 540.0L1246.5 539.8L1250.1 540.1L1253.7 539.5L1257.3 539.8L1260.8 539.7L1264.4 539.5L1268.0 539.1L1271.6 539.1L1275.9 537.8L1280.2 537.5L1284.5 537.5L1288.8 536.8L1292.6 535.3L1296.4 534.6L1300.2 533.1L1304.0 533.0L1307.9 532.4L1311.7 532.1L1315.5 533.2L1319.3 533.9L1323.1 535.0L1326.7 535.8L1330.3 535.7L1333.9 535.8L1337.5 536.2L1341.5 536.8L1345.5 537.7L1349.5 537.8L1353.5 538.1L1357.5 538.4L1361.1 539.5L1364.7 539.4L1368.2 539.6L1371.8 539.8L1375.4 540.2L1379.0 540.6L1382.6 541.0L1386.2 540.6L1389.7 540.5L1393.3 540.9L1396.9 540.7L1400.5 541.3L1404.1 540.6L1407.6 540.9L1411.2 541.1L1414.8 540.8L1418.3 541.3L1421.8 540.9L1425.3 540.7L1428.8 540.8L1432.3 540.5L1435.9 540.8L1439.4 540.7L1442.9 541.2L1446.4 541.2L1449.9 540.9L1453.5 540.5L1457.1 540.7L1460.6 540.8L1464.2 540.8L1467.8 540.8L1471.4 541.3L1475.0 540.8L1478.5 540.7L1482.1 541.4L1485.7 541.2L1489.3 541.5L1492.8 541.1L1496.4 541.5L1500.0 541.3L1503.6 541.4L1507.1 541.4L1510.7 541.2L1514.3 540.9L1517.9 541.0L1521.4 541.6L1525.0 541.6L1528.6 541.7L1532.1 541.2L1535.7 541.5L1539.3 541.6L1542.9 541.5L1546.4 541.6L1550.0 541.4L1553.6 541.5L1557.1 541.6L1560.7 541.3L1564.3 541.8L1567.9 541.8L1571.4 541.1L1575.0 541.9L1578.6 541.9L1582.1 541.7L1585.7 541.2L1589.3 541.9L1592.9 541.3L1596.4 542.0L1600.0 541.7L1603.5 541.2L1607.0 541.3L1610.5 541.7L1614.1 541.6L1617.6 541.7L1621.1 541.8L1624.6 541.2L1628.1 541.1L1631.6 541.8L1635.2 541.0L1638.7 541.7L1642.2 541.1L1645.7 541.6L1649.2 541.6L1652.7 541.6L1656.2 541.3L1659.8 541.6L1663.3 541.0L1666.8 541.4L1670.3 541.1L1673.8 541.5L1677.3 541.4L1680.8 541.2L1684.4 541.2L1687.9 540.8L1691.4 540.8L1694.9 541.2L1698.4 541.1L1701.9 541.4L1705.5 541.1L1709.0 540.7L1712.5 540.9L1716.0 541.0"/>
<path class="c" stroke="#008000" stroke-width="3.7" d="M985.0 534.5L989.6 534.3L994.3 534.0L998.1 534.6L1002.0 534.9L1005.8 535.5L1010.8 533.9L1015.8 533.7L1019.4 534.2L1022.9 534.0L1026.5 534.4L1030.1 533.7L1033.7 533.8L1037.3 533.4L1040.8 533.4L1044.4 533.2L1048.0 532.4L1051.6 532.4L1055.4 532.3L1059.2 532.7L1063.1 532.3L1066.9 531.5L1070.7 531.9L1074.5 531.1L1078.4 531.3L1082.2 530.6L1086.0 530.3L1089.9 531.1L1093.8 530.4L1097.7 530.3L1101.5 531.1L1105.4 530.9L1109.3 530.2L1113.2 530.9L1117.0 530.5L1120.7 530.7L1124.5 530.2L1128.3 531.0L1132.1 530.8L1135.8 531.1L1139.6 531.0L1143.4 530.5L1147.2 530.6L1150.9 530.4L1154.7 530.4L1158.3 530.8L1161.9 531.4L1165.5 532.1L1169.2 531.8L1172.8 532.9L1176.4 533.0L1180.0 533.3L1184.0 534.0L1188.0 533.8L1192.0 533.9L1196.0 534.2L1200.0 534.6L1203.5 534.2L1207.0 535.3L1210.6 534.5L1214.1 535.4L1217.6 535.7L1221.1 535.1L1224.6 536.1L1228.1 535.9L1231.7 536.3L1235.2 535.9L1238.7 536.1L1242.3 536.1L1245.8 536.8L1249.4 535.9L1253.0 536.3L1256.5 536.4L1260.1 536.2L1263.9 534.5L1267.8 533.3L1271.6 532.3L1275.4 530.6L1279.2 528.0L1283.0 526.7L1286.6 525.9L1290.2 525.1L1293.8 523.4L1297.4 523.4L1301.0 521.4L1304.5 520.4L1308.1 519.5L1312.0 520.9L1316.0 521.3L1319.8 521.8L1323.6 521.3L1327.4 521.0L1332.5 521.5L1337.5 521.9L1341.8 524.3L1346.0 526.9L1351.0 527.8L1356.1 528.5L1361.1 529.4L1366.1 531.0L1371.1 531.9L1376.1 531.3L1380.4 532.5L1384.7 533.6L1389.0 535.2L1392.6 535.4L1396.2 535.1L1399.7 535.0L1403.3 534.7L1406.9 536.1L1410.4 535.7L1414.0 536.7L1417.6 537.6L1421.6 536.7L1425.6 537.0L1429.7 537.0L1433.7 536.4L1437.7 536.3L1442.5 535.7L1447.2 536.0L1450.9 535.5L1454.6 536.0L1458.3 535.2L1461.9 535.1L1465.6 535.4L1469.3 535.0L1473.0 534.9L1476.7 534.4L1480.4 534.4L1484.2 534.6L1487.9 534.4L1491.6 534.2L1495.3 534.3L1499.3 534.4L1503.3 534.9L1507.3 535.9L1511.3 536.2L1515.3 536.2L1519.3 536.4L1523.0 536.6L1526.8 536.8L1530.5 537.3L1534.2 538.2L1538.0 538.7L1541.7 538.6L1545.5 539.3L1549.4 539.5L1553.2 539.7L1557.0 540.0L1560.8 540.4L1564.7 540.2L1568.5 540.9L1572.3 540.7L1576.2 541.2L1580.0 541.8L1584.2 541.9L1588.3 541.8L1592.5 542.7L1596.7 542.6L1600.6 542.3L1604.5 541.5L1608.3 541.8L1612.2 541.3L1616.1 541.4L1620.0 541.0L1623.6 541.3L1627.1 541.1L1630.7 541.3L1634.2 540.8L1637.8 541.1L1641.3 541.1L1644.9 541.2L1648.4 540.7L1652.0 541.2L1655.6 541.2L1659.1 541.0L1662.7 541.3L1666.2 541.3L1669.8 540.8L1673.3 540.8L1676.9 540.4L1680.4 541.1L1684.0 541.2L1687.6 540.7L1691.1 540.9L1694.7 540.9L1698.2 540.9L1701.8 540.3L1705.3 540.9L1708.9 540.7L1712.4 540.8L1716.0 540.6"/>
<path class="c" stroke="#000080" stroke-width="3.7" d="M985.0 537.5L989.6 538.6L994.3 539.4L997.9 539.2L1001.5 539.0L1005.0 539.5L1008.6 539.4L1012.2 539.4L1015.8 538.8L1019.3 538.9L1022.9 538.3L1026.5 538.5L1030.1 538.2L1033.7 537.4L1037.2 536.9L1040.8 536.5L1044.4 535.6L1048.0 535.5L1051.6 535.3L1055.2 534.6L1058.7 534.6L1062.3 534.2L1065.9 534.0L1069.5 533.3L1073.1 532.9L1076.7 533.2L1080.2 532.9L1083.8 532.4L1087.4 531.9L1091.0 532.0L1094.6 532.3L1098.1 532.0L1101.7 532.6L1105.3 532.3L1108.9 532.0L1112.5 532.3L1116.0 532.1L1119.6 532.5L1123.2 532.5L1126.8 532.3L1130.3 532.4L1133.9 532.5L1137.5 532.6L1141.1 532.8L1144.7 532.1L1148.2 532.4L1151.8 532.6L1155.4 532.4L1158.9 532.7L1162.5 532.3L1166.1 533.0L1169.7 532.5L1173.3 532.0L1176.8 532.2L1180.4 531.7L1184.0 531.5L1187.6 531.5L1191.7 531.6L1195.9 532.0L1200.0 532.9L1203.6 532.9L1207.2 532.5L1210.7 533.2L1214.3 532.8L1217.9 533.2L1221.4 533.7L1225.0 533.7L1228.6 533.5L1232.2 533.6L1235.8 533.6L1239.4 533.4L1242.9 534.1L1246.5 533.3L1250.1 533.6L1253.7 533.9L1257.3 533.6L1261.6 533.7L1265.9 532.8L1270.2 533.0L1274.5 532.6L1278.1 531.7L1281.7 531.2L1285.2 530.1L1288.8 529.7L1292.4 529.3L1295.9 528.7L1299.5 528.3L1303.1 528.2L1306.7 527.9L1310.2 527.7L1313.8 528.2L1317.4 527.8L1321.0 528.2L1324.6 528.6L1328.1 528.3L1331.7 528.3L1335.5 529.3L1339.4 530.6L1343.2 531.4L1346.8 532.0L1350.3 532.9L1353.9 534.0L1357.5 534.2L1361.1 534.9L1364.7 535.8L1368.2 536.1L1371.8 536.4L1375.4 536.8L1379.0 537.0L1382.5 537.0L1386.1 537.4L1389.7 537.6L1393.3 538.2L1396.9 538.0L1400.5 538.4L1404.0 538.7L1407.6 538.8L1411.2 538.5L1414.8 538.8L1418.4 538.7L1422.0 538.9L1425.6 539.1L1429.2 539.4L1432.8 539.7L1436.4 539.3L1440.0 539.2L1444.1 539.4L1448.1 538.9L1452.2 538.8L1456.3 539.2L1460.3 538.5L1464.4 538.9L1468.2 538.6L1472.0 539.2L1475.8 539.1L1479.6 538.6L1483.5 538.7L1487.3 539.4L1491.1 539.2L1494.9 539.1L1498.7 539.4L1502.5 539.7L1506.3 539.6L1510.2 539.8L1514.0 539.7L1517.8 540.1L1521.6 540.1L1525.5 540.7L1529.3 540.9L1533.1 540.7L1536.8 541.1L1540.5 540.7L1544.1 540.7L1547.8 541.1L1551.5 541.0L1555.2 541.3L1558.8 541.1L1562.5 541.2L1566.2 540.7L1569.9 541.3L1573.6 540.7L1577.2 541.1L1580.9 541.3L1584.6 541.3L1588.3 541.3L1592.0 540.9L1595.7 541.0L1599.3 541.1L1603.0 540.5L1606.7 541.1L1610.4 541.0L1614.1 540.6L1617.8 540.8L1621.5 540.5L1625.1 540.3L1628.8 540.7L1632.5 540.1L1636.2 540.6L1639.8 540.8L1643.5 540.2L1647.1 540.8L1650.7 540.1L1654.3 540.7L1658.0 540.2L1661.6 540.8L1665.2 540.3L1668.8 540.7L1672.5 540.0L1676.1 540.1L1679.7 540.7L1683.4 540.5L1687.0 540.4L1690.6 540.0L1694.2 540.1L1697.9 540.3L1701.5 540.0L1705.1 540.8L1708.7 540.6L1712.4 540.8L1716.0 540.4"/>
</g>
<rect class="ax" x="985.4" y="10.0" width="730.5" height="579.8" stroke-width="4.1"/>
<path class="ax" stroke-width="4.2" stroke-linecap="round" d="M1715.9 589.8V601.6M1580.7 589.8V596.4M1445.5 589.8V601.6M1310.3 589.8V596.4M1175.1 589.8V601.6M1039.9 589.8V596.4"/>
<text class="t" x="1715.9" y="636.0" text-anchor="middle">800</text>
<text class="t" x="1445.5" y="636.0" text-anchor="middle">700</text>
<text class="t" x="1175.1" y="636.0" text-anchor="middle">600</text>
<text class="t" x="1350.8" y="689.3" style="font-size:33.5px" text-anchor="middle">Wavelength (nm)</text>
<text class="t" transform="translate(936.8 283.4) rotate(-90)" text-anchor="middle" textLength="313.4" lengthAdjust="spacing">Flourescence Intensity</text>
<text class="p" transform="translate(925.0 36.4) scale(.97 1)" font-size="42.6">B</text>
<path class="lg" stroke="#000000" d="M1434.7 38.3H1502.4"/>
<text class="t" x="1511.6" y="49.1" textLength="191.6" lengthAdjust="spacing">PPor1-C≡CH</text>
<path class="lg" stroke="#ff0000" d="M1434.7 83.1H1502.4"/>
<text class="t" x="1511.6" y="93.3" textLength="191.6" lengthAdjust="spacing">PPor2-C≡CH</text>
<path class="lg" stroke="#0000ff" d="M1434.7 127.8H1502.4"/>
<text class="t" x="1511.6" y="138.0" textLength="191.6" lengthAdjust="spacing">PPor3-C≡CH</text>
<path class="lg" stroke="#ff00ff" d="M1434.7 169.0H1502.4"/>
<text class="t" x="1511.6" y="179.1">PPor1-g-C<tspan class="s" dy="11.3">3</tspan><tspan dy="-11.3">N</tspan><tspan class="s" dy="11.3">4</tspan></text>
<path class="lg" stroke="#008000" d="M1434.7 220.1H1502.4"/>
<text class="t" x="1511.6" y="230.3">PPor2-g-C<tspan class="s" dy="11.3">3</tspan><tspan dy="-11.3">N</tspan><tspan class="s" dy="11.3">4</tspan></text>
<path class="lg" stroke="#000080" d="M1434.7 271.3H1502.4"/>
<text class="t" x="1511.6" y="281.1">PPor3-g-C<tspan class="s" dy="11.3">3</tspan><tspan dy="-11.3">N</tspan><tspan class="s" dy="11.3">4</tspan></text>
</svg>
</body></html>
